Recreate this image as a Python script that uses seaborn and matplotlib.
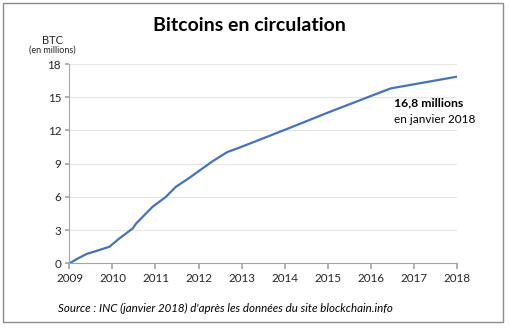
import matplotlib
matplotlib.use("Agg")
import matplotlib.pyplot as plt
import matplotlib.patches as mpatches
import seaborn as sns
import pandas as pd

# Data (year as decimal, BTC in millions)
years = [2009.0, 2009.2, 2009.4, 2009.65, 2009.93, 2010.16, 2010.47, 2010.55,
         2010.93, 2011.24, 2011.47, 2011.78, 2012.32, 2012.67, 2012.95,
         2013.97, 2015.0, 2016.0, 2016.47, 2018.0]
btc = [0.0, 0.45, 0.85, 1.15, 1.5, 2.25, 3.15, 3.6,
       5.1, 6.0, 6.9, 7.7, 9.2, 10.05, 10.45,
       12.0, 13.6, 15.1, 15.8, 16.85]
year_ticks = list(range(2009, 2019))
y_ticks = [0, 3, 6, 9, 12, 15, 18]

title = "Bitcoins en circulation"
ylabel_main = "BTC"
ylabel_sub = "(en millions)"
annot_bold = "16,8 millions"
annot_sub = "en janvier 2018"
source = "Source : INC (janvier 2018) d'après les données du site blockchain.info"

df = pd.DataFrame({"annee": years, "btc": btc})

sns.set_theme(style="white")
plt.rcParams['font.family'] = ['Lato', 'DejaVu Sans']

fig = plt.figure(figsize=(5.09, 3.30), dpi=100)
ax = fig.add_axes([0.1365, 0.202, 0.7605, 0.604])

sns.lineplot(data=df, x="annee", y="btc", ax=ax, color="#4472C4", linewidth=1.6)

ax.set_xlim(2009, 2018)
ax.set_ylim(0, 18)
ax.set_xticks(year_ticks)
ax.set_xticklabels([str(y) for y in year_ticks])
ax.set_yticks(y_ticks)
ax.set_yticklabels([str(v) for v in y_ticks])
ax.set_xlabel("")
ax.set_ylabel("")
ax.yaxis.grid(True, color="#E6E6E6", linewidth=0.8)
ax.xaxis.grid(False)
for s in ["top", "right"]:
    ax.spines[s].set_visible(False)
for s in ["left", "bottom"]:
    ax.spines[s].set_color("#A6A6A6")
    ax.spines[s].set_linewidth(0.8)
ax.tick_params(axis="x", which="both", bottom=True, length=4, color="#A6A6A6",
               labelsize=8.4, labelcolor="#262626", pad=3)
ax.tick_params(axis="y", which="both", left=True, length=3, color="#A6A6A6",
               labelsize=8.4, labelcolor="#262626", pad=3)

fig.text(0.49, 0.922, title, ha="center", va="center", fontsize=14,
         fontweight="bold", color="#000000")
fig.text(0.103, 0.877, ylabel_main, ha="center", va="center", fontsize=8,
         color="#262626")
fig.text(0.103, 0.847, ylabel_sub, ha="center", va="center", fontsize=6.5,
         color="#262626")

ax.text(2016.55, 14.5, annot_bold, ha="left", va="center", fontsize=8.8,
        fontweight="bold", color="#000000")
ax.text(2016.55, 13.0, annot_sub, ha="left", va="center", fontsize=8.5,
        color="#000000")

fig.text(0.113, 0.066, source, ha="left", va="center", fontsize=8.3,
         style="italic", color="#000000")

border = mpatches.Rectangle((3 / 509, 1 - 322 / 330), 500 / 509, 319 / 330,
                            transform=fig.transFigure, fill=False,
                            edgecolor="#8C8C8C", linewidth=1.0)
fig.patches.append(border)

fig.savefig("out.png", dpi=100)
